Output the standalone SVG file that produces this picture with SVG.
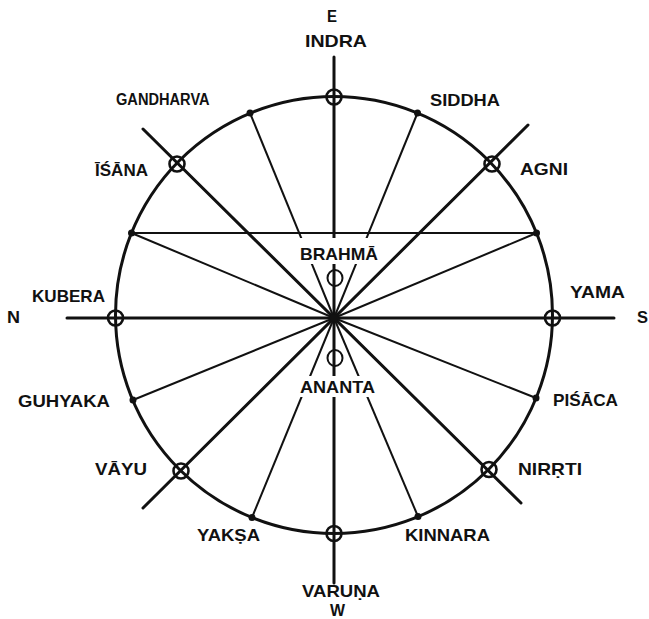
<svg xmlns="http://www.w3.org/2000/svg" width="649" height="619" viewBox="0 0 649 619">
<style>
.ax{stroke:#111;stroke-width:3;fill:none;stroke-linecap:round}
.rd{stroke:#111;stroke-width:2;fill:none}
.rim{stroke:#111;stroke-width:3;fill:none}
.node{stroke:#111;stroke-width:2.6;fill:none}
.dot{fill:#111}
.lbl{font-family:"Liberation Sans","DejaVu Sans",sans-serif;font-weight:bold;font-size:17px;fill:#111}
.bg{fill:#fff}
</style>
<rect width="649" height="619" fill="#fff"/>
<g id="connectors">
<circle class="rim" cx="334" cy="315" r="218.5"/>
<line class="ax" x1="334" y1="57" x2="334" y2="583"/>
<line class="ax" x1="67" y1="318" x2="614" y2="318"/>
<line class="ax" x1="143" y1="129" x2="521" y2="503"/>
<line class="ax" x1="528" y1="125" x2="143" y2="508"/>
<line class="rd" x1="131.5" y1="233" x2="536.5" y2="233"/>
<line class="rd" x1="250" y1="113" x2="334" y2="318"/>
<line class="rd" x1="417.5" y1="113" x2="334" y2="318"/>
<line class="rd" x1="131.5" y1="233" x2="334" y2="318"/>
<line class="rd" x1="536.5" y1="233" x2="334" y2="318"/>
<line class="rd" x1="133" y1="400" x2="334" y2="318"/>
<line class="rd" x1="536" y1="398" x2="334" y2="318"/>
<line class="rd" x1="252" y1="517.5" x2="334" y2="318"/>
<line class="rd" x1="418" y1="516.5" x2="334" y2="318"/>
</g>
<g id="label-bg">
<rect class="bg" x="298" y="238" width="82" height="26"/>
<rect class="bg" x="298" y="376" width="80" height="21"/>
</g>
<g id="center"><circle class="dot" cx="334" cy="318" r="4"/></g>
<g id="dots">
<circle class="dot" cx="250" cy="113" r="3.5"/>
<circle class="dot" cx="417.5" cy="113" r="3.5"/>
<circle class="dot" cx="131.5" cy="233" r="3.5"/>
<circle class="dot" cx="536.5" cy="233" r="3.5"/>
<circle class="dot" cx="133" cy="400" r="3.5"/>
<circle class="dot" cx="536" cy="398" r="3.5"/>
<circle class="dot" cx="252" cy="517.5" r="3.5"/>
<circle class="dot" cx="418" cy="516.5" r="3.5"/>
</g>
<g id="indra"><circle class="node" cx="334" cy="97" r="7.5"/><text class="lbl" x="305" y="47" textLength="62" lengthAdjust="spacingAndGlyphs">INDRA</text><text class="lbl" x="327" y="22" textLength="10" lengthAdjust="spacingAndGlyphs">E</text></g>
<g id="gandharva"><text class="lbl" transform="translate(116 105) scale(0.86 1)">GANDHARVA</text></g>
<g id="siddha"><text class="lbl" x="430" y="106" textLength="70" lengthAdjust="spacingAndGlyphs">SIDDHA</text></g>
<g id="isana"><circle class="node" cx="177" cy="164" r="7.5"/><text class="lbl" x="95" y="176" textLength="53" lengthAdjust="spacingAndGlyphs">ĪŚĀNA</text></g>
<g id="agni"><circle class="node" cx="492" cy="164" r="7.5"/><text class="lbl" x="520" y="175" textLength="48" lengthAdjust="spacingAndGlyphs">AGNI</text></g>
<g id="brahma"><ellipse class="node" style="stroke-width:2" cx="335" cy="278" rx="7.5" ry="8"/><text class="lbl" x="300" y="260" textLength="78" lengthAdjust="spacingAndGlyphs">BRAHMĀ</text></g>
<g id="ananta"><ellipse class="node" style="stroke-width:2" cx="335" cy="358" rx="7.5" ry="8"/><text class="lbl" x="300" y="393" textLength="75" lengthAdjust="spacingAndGlyphs">ANANTA</text></g>
<g id="kubera"><circle class="node" cx="115.5" cy="318" r="7.5"/><text class="lbl" x="32" y="302" textLength="73" lengthAdjust="spacingAndGlyphs">KUBERA</text><text class="lbl" x="7" y="323" textLength="13" lengthAdjust="spacingAndGlyphs">N</text></g>
<g id="yama"><circle class="node" cx="552.5" cy="318" r="7.5"/><text class="lbl" x="570" y="298" textLength="55" lengthAdjust="spacingAndGlyphs">YAMA</text><text class="lbl" x="637" y="323" textLength="11" lengthAdjust="spacingAndGlyphs">S</text></g>
<g id="guhyaka"><text class="lbl" x="18" y="407" textLength="92" lengthAdjust="spacingAndGlyphs">GUHYAKA</text></g>
<g id="pisaca"><text class="lbl" x="553" y="406" textLength="65" lengthAdjust="spacingAndGlyphs">PIŚĀCA</text></g>
<g id="vayu"><circle class="node" cx="181" cy="471" r="7.5"/><text class="lbl" x="95" y="475" textLength="52" lengthAdjust="spacingAndGlyphs">VĀYU</text></g>
<g id="nirrti"><circle class="node" cx="489" cy="469.5" r="7.5"/><text class="lbl" x="518" y="475" textLength="64" lengthAdjust="spacingAndGlyphs">NIRṚTI</text></g>
<g id="yaksa"><text class="lbl" x="197" y="541" textLength="63" lengthAdjust="spacingAndGlyphs">YAKṢA</text></g>
<g id="kinnara"><text class="lbl" x="405" y="541" textLength="85" lengthAdjust="spacingAndGlyphs">KINNARA</text></g>
<g id="varuna"><circle class="node" cx="334" cy="533.5" r="7.5"/><text class="lbl" x="302" y="597" textLength="78" lengthAdjust="spacingAndGlyphs">VARUṆA</text><text class="lbl" x="330" y="616" textLength="15" lengthAdjust="spacingAndGlyphs">W</text></g>
</svg>
